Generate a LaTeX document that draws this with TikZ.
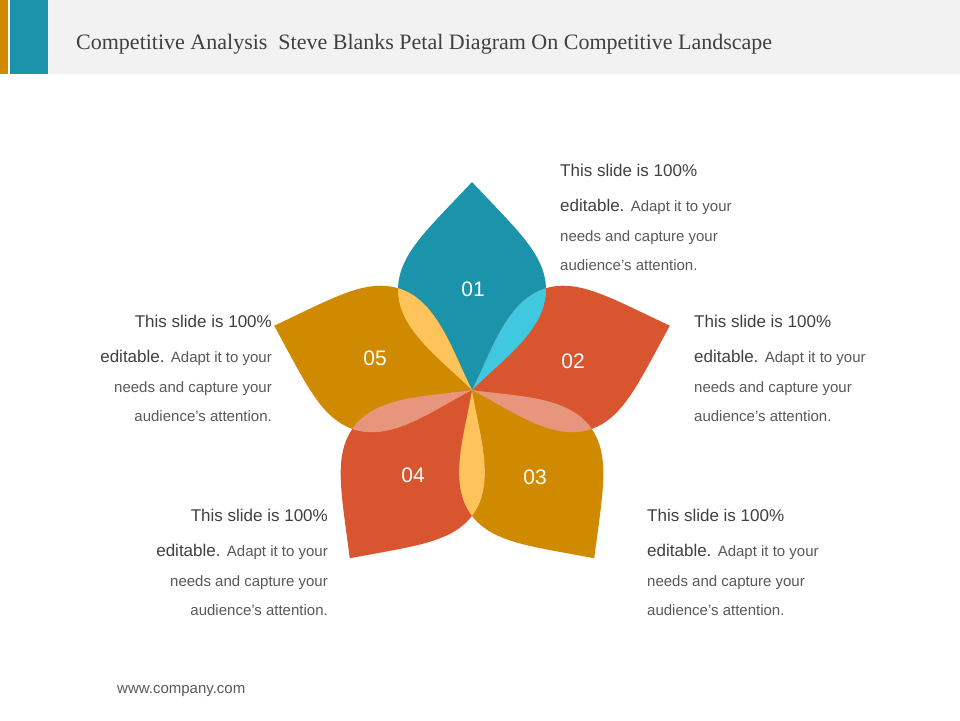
\documentclass[tikz,border=0pt]{standalone}
\usepackage{fontspec}
\setmainfont{Liberation Sans}
\newfontfamily\titlefont{Liberation Serif}
\definecolor{teal1}{HTML}{1A93AB}
\definecolor{red1}{HTML}{D85530}
\definecolor{gold1}{HTML}{D08A00}
\definecolor{cyanov}{HTML}{40C8E0}
\definecolor{yelov}{HTML}{FFC35C}
\definecolor{pinkov}{HTML}{E8957E}
\definecolor{txt}{HTML}{404040}
\definecolor{txt2}{HTML}{595959}
\definecolor{band}{HTML}{F2F2F2}
\newcommand{\petalpath}[1]{[shift={(472,390)},rotate=#1] (0,0) .. controls (-30,-30) and (-74,-60) .. (-74,-100) .. controls (-74,-135) and (-45,-160) .. (0,-208) .. controls (45,-160) and (74,-135) .. (74,-100) .. controls (74,-60) and (30,-30) .. (0,0) -- cycle}
\tikzset{
 hd/.style={font=\fontsize{17}{20}\selectfont, text=txt, inner sep=0pt},
 bd/.style={font=\fontsize{15}{18}\selectfont, text=txt2, inner sep=0pt},
 num/.style={font=\fontsize{21}{24}\selectfont, text=white, inner sep=0pt}
}
\begin{document}
\begin{tikzpicture}[x=1pt,y=-1pt]
\useasboundingbox (0,0) rectangle (960,720);
\fill[white] (0,0) rectangle (960,720);
\fill[band] (48,0) rectangle (960,74);
\fill[gold1] (0,0) rectangle (8,74);
\fill[teal1] (10,0) rectangle (48,74);
\node[anchor=base west, inner sep=0pt, text=txt, font=\titlefont\fontsize{22}{26}\selectfont] (title) at (76,49) {Competitive Analysis\ \ Steve Blanks Petal Diagram On Competitive Landscape};
% petals
\fill[teal1] \petalpath{0};
\fill[red1] \petalpath{-72};
\fill[gold1] \petalpath{-144};
\fill[red1] \petalpath{-216};
\fill[gold1] \petalpath{-288};
\begin{scope}\clip \petalpath{0}; \fill[cyanov] \petalpath{-72}; \end{scope}
\begin{scope}\clip \petalpath{0}; \fill[yelov] \petalpath{-288}; \end{scope}
\begin{scope}\clip \petalpath{-72}; \fill[pinkov] \petalpath{-144}; \end{scope}
\begin{scope}\clip \petalpath{-144}; \fill[yelov] \petalpath{-216}; \end{scope}
\begin{scope}\clip \petalpath{-216}; \fill[pinkov] \petalpath{-288}; \end{scope}
\node[num] (n1) at (473,289) {01};
\node[num] (n2) at (573,361) {02};
\node[num] (n3) at (535,477) {03};
\node[num] (n4) at (413,475) {04};
\node[num] (n5) at (375,358) {05};
% text blocks
\node[hd, anchor=base west] (a1) at (560,176) {This slide is 100\%};
\node[anchor=base west, inner sep=0pt] (a2) at (560,211) {\fontsize{17}{20}\selectfont\color{txt}editable. \fontsize{15}{18}\selectfont\color{txt2}Adapt it to your};
\node[bd, anchor=base west] (a3) at (560,241) {needs and capture your};
\node[bd, anchor=base west] (a4) at (560,270) {audience’s attention.};
\node[hd, anchor=base west] (b1) at (694,327) {This slide is 100\%};
\node[anchor=base west, inner sep=0pt] (b2) at (694,362) {\fontsize{17}{20}\selectfont\color{txt}editable. \fontsize{15}{18}\selectfont\color{txt2}Adapt it to your};
\node[bd, anchor=base west] (b3) at (694,392) {needs and capture your};
\node[bd, anchor=base west] (b4) at (694,421) {audience’s attention.};
\node[hd, anchor=base west] (c1) at (647,521) {This slide is 100\%};
\node[anchor=base west, inner sep=0pt] (c2) at (647,556) {\fontsize{17}{20}\selectfont\color{txt}editable. \fontsize{15}{18}\selectfont\color{txt2}Adapt it to your};
\node[bd, anchor=base west] (c3) at (647,586) {needs and capture your};
\node[bd, anchor=base west] (c4) at (647,615) {audience’s attention.};
\node[hd, anchor=base east] (d1) at (272,327) {This slide is 100\%};
\node[anchor=base east, inner sep=0pt] (d2) at (272,362) {\fontsize{17}{20}\selectfont\color{txt}editable. \fontsize{15}{18}\selectfont\color{txt2}Adapt it to your};
\node[bd, anchor=base east] (d3) at (272,392) {needs and capture your};
\node[bd, anchor=base east] (d4) at (272,421) {audience’s attention.};
\node[hd, anchor=base east] (e1) at (328,521) {This slide is 100\%};
\node[anchor=base east, inner sep=0pt] (e2) at (328,556) {\fontsize{17}{20}\selectfont\color{txt}editable. \fontsize{15}{18}\selectfont\color{txt2}Adapt it to your};
\node[bd, anchor=base east] (e3) at (328,586) {needs and capture your};
\node[bd, anchor=base east] (e4) at (328,615) {audience’s attention.};
\node[bd, anchor=base west] (web) at (117,693) {www.company.com};
\end{tikzpicture}
\end{document}
